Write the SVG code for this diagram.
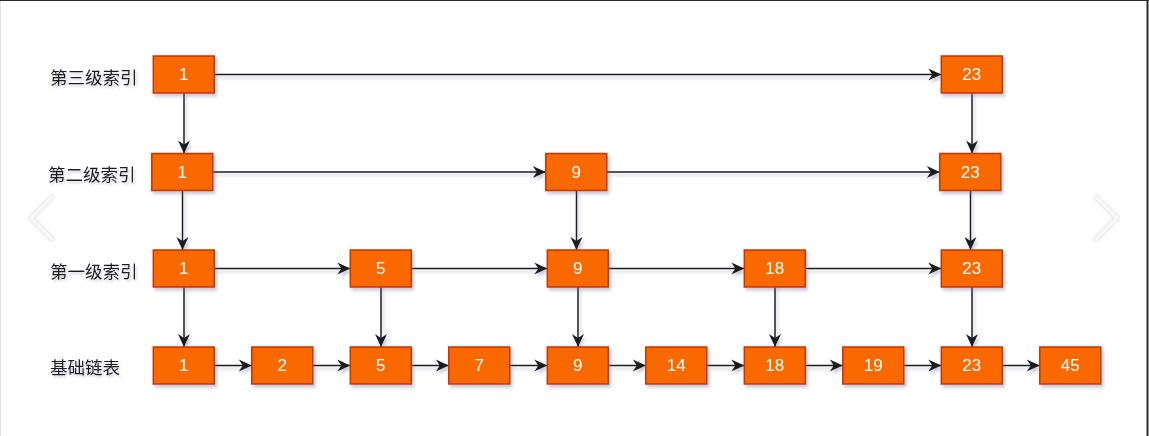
<svg xmlns="http://www.w3.org/2000/svg" width="1149" height="436" viewBox="0 0 1149 436">
  <defs>
    <filter id="sh" x="-20%" y="-20%" width="150%" height="160%">
      <feDropShadow dx="2" dy="3" stdDeviation="1.5" flood-color="#6b6f9a" flood-opacity="0.35"/>
    </filter>
    <filter id="tsh" x="-10%" y="-30%" width="130%" height="180%">
      <feDropShadow dx="1.5" dy="2" stdDeviation="1.2" flood-color="#6b6f9a" flood-opacity="0.35"/>
    </filter>
    <filter id="csh" x="-50%" y="-20%" width="200%" height="140%">
      <feDropShadow dx="0" dy="0" stdDeviation="1.2" flood-color="#999" flood-opacity="0.6"/>
    </filter>
    <marker id="arr" markerUnits="userSpaceOnUse" markerWidth="14" markerHeight="12" refX="13" refY="6" orient="auto" overflow="visible">
      <path d="M0,0 L13,6 L0,12 L4,6 Z" fill="#1e1e1e"/>
    </marker>
  </defs>
  <style>
    .node rect { fill: #fa6800; stroke: #c73500; stroke-width: 1.5; }
    .node text { fill: #ffffff; font-family: "Liberation Sans", Arial, sans-serif; font-size: 17px; text-anchor: middle; dominant-baseline: central; }
    .label { fill: #1e1e1e; font-family: "Noto Sans CJK SC", "Noto Sans", sans-serif; font-size: 17.5px; dominant-baseline: central; }
    .edges path { fill: none; stroke: #1e1e1e; stroke-width: 1.5; marker-end: url(#arr); }
    .chev { fill: none; stroke: #f7f7f7; stroke-width: 4; stroke-linecap: round; stroke-linejoin: round; }
  </style>

  <rect x="0" y="0" width="1149" height="436" fill="#ffffff"/>
  <line x1="0.5" y1="0" x2="0.5" y2="436" stroke="#e4e4e4" stroke-width="1"/>
  <line x1="0" y1="0.5" x2="1149" y2="0.5" stroke="#2a2a2a" stroke-width="1.2"/>
  <line x1="1147.5" y1="0" x2="1147.5" y2="436" stroke="#2a2a2a" stroke-width="2"/>

  <g id="chevrons" filter="url(#csh)">
    <polyline class="chev" points="52,197 31,218 52,239"/>
    <polyline class="chev" points="1096,197 1117,218 1096,239"/>
  </g>

  <g id="labels" filter="url(#tsh)">
    <text class="label" x="50" y="76.5">第三级索引</text>
    <text class="label" x="48" y="173">第二级索引</text>
    <text class="label" x="50" y="270">第一级索引</text>
    <text class="label" x="50" y="366.5">基础链表</text>
  </g>

  <g class="edges" id="connectors" filter="url(#sh)">
    <!-- level 3 -->
    <path d="M214.3,74.5 H941.3"/>
    <path d="M184,93 V153.5"/>
    <path d="M972,93 V153.5"/>
    <!-- level 2 -->
    <path d="M212.8,172 H545.8"/>
    <path d="M606.8,172 H939.8"/>
    <path d="M182.5,190.5 V250"/>
    <path d="M576.5,190.5 V250"/>
    <path d="M970.5,190.5 V250"/>
    <!-- level 1 -->
    <path d="M214.3,268.5 H350.3"/>
    <path d="M411.3,268.5 H547.3"/>
    <path d="M608.3,268.5 H744.3"/>
    <path d="M805.3,268.5 H941.3"/>
    <path d="M184,287 V347"/>
    <path d="M381,287 V347"/>
    <path d="M578,287 V347"/>
    <path d="M775,287 V347"/>
    <path d="M972,287 V347"/>
    <!-- base -->
    <path d="M214.3,365.5 H251.8"/>
    <path d="M312.8,365.5 H350.3"/>
    <path d="M411.3,365.5 H448.8"/>
    <path d="M509.8,365.5 H547.3"/>
    <path d="M608.3,365.5 H645.8"/>
    <path d="M706.8,365.5 H744.3"/>
    <path d="M805.3,365.5 H842.8"/>
    <path d="M903.8,365.5 H941.3"/>
    <path d="M1002.3,365.5 H1039.8"/>
  </g>

  <g id="L3-1" class="node" filter="url(#sh)"><rect x="153.3" y="56" width="61" height="37"/><text x="183.8" y="74.5">1</text></g>
  <g id="L3-23" class="node" filter="url(#sh)"><rect x="941.3" y="56" width="61" height="37"/><text x="971.8" y="74.5">23</text></g>

  <g id="L2-1" class="node" filter="url(#sh)"><rect x="151.8" y="153.5" width="61" height="37"/><text x="182.3" y="172">1</text></g>
  <g id="L2-9" class="node" filter="url(#sh)"><rect x="545.8" y="153.5" width="61" height="37"/><text x="576.3" y="172">9</text></g>
  <g id="L2-23" class="node" filter="url(#sh)"><rect x="939.8" y="153.5" width="61" height="37"/><text x="970.3" y="172">23</text></g>

  <g id="L1-1" class="node" filter="url(#sh)"><rect x="153.3" y="250" width="61" height="37"/><text x="183.8" y="268.5">1</text></g>
  <g id="L1-5" class="node" filter="url(#sh)"><rect x="350.3" y="250" width="61" height="37"/><text x="380.8" y="268.5">5</text></g>
  <g id="L1-9" class="node" filter="url(#sh)"><rect x="547.3" y="250" width="61" height="37"/><text x="577.8" y="268.5">9</text></g>
  <g id="L1-18" class="node" filter="url(#sh)"><rect x="744.3" y="250" width="61" height="37"/><text x="774.8" y="268.5">18</text></g>
  <g id="L1-23" class="node" filter="url(#sh)"><rect x="941.3" y="250" width="61" height="37"/><text x="971.8" y="268.5">23</text></g>

  <g id="B-1" class="node" filter="url(#sh)"><rect x="153.3" y="347" width="61" height="37"/><text x="183.8" y="365.5">1</text></g>
  <g id="B-2" class="node" filter="url(#sh)"><rect x="251.8" y="347" width="61" height="37"/><text x="282.3" y="365.5">2</text></g>
  <g id="B-5" class="node" filter="url(#sh)"><rect x="350.3" y="347" width="61" height="37"/><text x="380.8" y="365.5">5</text></g>
  <g id="B-7" class="node" filter="url(#sh)"><rect x="448.8" y="347" width="61" height="37"/><text x="479.3" y="365.5">7</text></g>
  <g id="B-9" class="node" filter="url(#sh)"><rect x="547.3" y="347" width="61" height="37"/><text x="577.8" y="365.5">9</text></g>
  <g id="B-14" class="node" filter="url(#sh)"><rect x="645.8" y="347" width="61" height="37"/><text x="676.3" y="365.5">14</text></g>
  <g id="B-18" class="node" filter="url(#sh)"><rect x="744.3" y="347" width="61" height="37"/><text x="774.8" y="365.5">18</text></g>
  <g id="B-19" class="node" filter="url(#sh)"><rect x="842.8" y="347" width="61" height="37"/><text x="873.3" y="365.5">19</text></g>
  <g id="B-23" class="node" filter="url(#sh)"><rect x="941.3" y="347" width="61" height="37"/><text x="971.8" y="365.5">23</text></g>
  <g id="B-45" class="node" filter="url(#sh)"><rect x="1039.8" y="347" width="61" height="37"/><text x="1070.3" y="365.5">45</text></g>
</svg>
